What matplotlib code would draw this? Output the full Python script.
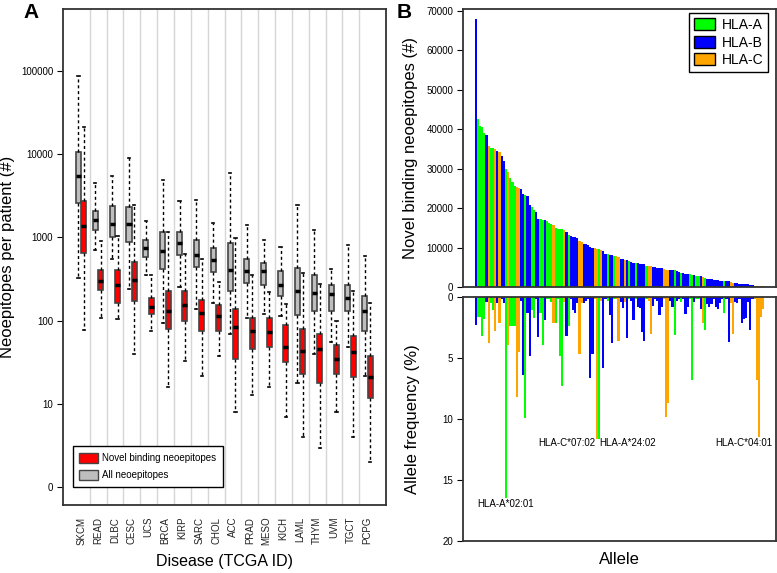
import numpy as np
import matplotlib.pyplot as plt
from matplotlib.patches import Patch

plt.rcParams['font.family'] = ['Liberation Sans', 'DejaVu Sans']

# ---- panel A data: neoepitopes per patient (box stats, counts) ----
diseases = ['SKCM', 'READ', 'DLBC', 'CESC', 'UCS', 'BRCA', 'KIRP', 'SARC', 'CHOL',
            'ACC', 'PRAD', 'MESO', 'KICH', 'LAML', 'THYM', 'UVM', 'TGCT', 'PCPG']

# all neoepitopes
all_hi  = [87000, 4500, 5500, 8900, 1580, 4900, 2750, 2800, 1480, 5900, 1410, 930, 760, 2450, 1230, 420, 800, 600]
all_q3  = [10700, 2100, 2350, 2300, 930, 1170, 1170, 930, 740, 850, 550, 490, 390, 430, 355, 265, 270, 200]
all_med = [5400, 1600, 1450, 1450, 740, 680, 850, 620, 540, 410, 400, 390, 265, 230, 215, 210, 190, 130]
all_q1  = [2600, 1230, 1020, 890, 590, 420, 620, 440, 380, 225, 280, 265, 200, 117, 132, 130, 130, 76]
all_lo  = [330, 710, 550, 240, 355, 95, 255, 140, 165, 70, 107, 120, 115, 18, 40, 55, 48, 22]

# novel binding neoepitopes
nov_hi  = [21000, 910, 1050, 2450, 355, 1150, 630, 550, 290, 980, 355, 220, 158, 370, 275, 100, 230, 162]
nov_q3  = [2700, 410, 410, 510, 190, 230, 225, 178, 155, 138, 107, 107, 89, 79, 69, 51, 66, 38]
nov_med = [1380, 300, 265, 310, 148, 132, 155, 123, 115, 85, 76, 74, 49, 43, 46, 35, 42, 21]
nov_q1  = [650, 235, 165, 175, 120, 79, 100, 76, 76, 35, 46, 48, 32, 23, 18, 23, 21, 12]
nov_lo  = [77, 107, 105, 40, 76, 16, 33, 22, 38, 8, 13, 16, 7, 4, 3, 8, 4, 2]

# ---- panel B data: one entry per HLA allele ----
allele_gene = ['B', 'A', 'A', 'A', 'A', 'B', 'C', 'A', 'A', 'C', 'B', 'C', 'B', 'B', 'A', 'C', 'A', 'A', 'A', 'C',
               'C', 'B', 'B', 'A', 'B', 'B', 'A', 'A', 'B', 'B', 'A', 'A', 'B', 'A', 'A', 'A', 'C', 'A', 'A', 'A',
               'A', 'C', 'B', 'A', 'B', 'B', 'B', 'B', 'C', 'C', 'B', 'B', 'B', 'B', 'B', 'C', 'C', 'A', 'C', 'B',
               'B', 'A', 'B', 'B', 'A', 'C', 'C', 'B', 'B', 'C', 'B', 'A', 'B', 'B', 'A', 'B', 'B', 'B', 'B', 'A',
               'C', 'C', 'B', 'B', 'B', 'B', 'B', 'C', 'C', 'C', 'B', 'B', 'A', 'B', 'B', 'A', 'B', 'B', 'B', 'A',
               'A', 'B', 'A', 'A', 'B', 'C', 'A', 'B', 'B', 'B', 'B', 'B', 'B', 'B', 'B', 'A', 'B', 'B', 'C', 'C',
               'B', 'B', 'B', 'B', 'B', 'B', 'B', 'B', 'B', 'C', 'C', 'C', 'C', 'C']
novel_binders = [67800, 42500, 40800, 40500, 39100, 38400, 35800, 35300, 35200, 35000,
                 34500, 34100, 33200, 32000, 29900, 29000, 27600, 26700, 25500, 25300,
                 25100, 24900, 23600, 23200, 23000, 20700, 20200, 19600, 18900, 17300,
                 17200, 17000, 16900, 16600, 16200, 16000, 15600, 15000, 14800, 14700,
                 14600, 14500, 13900, 13200, 12900, 12700, 12600, 12500, 11600, 11400,
                 11000, 10900, 10700, 10200, 9900, 9800, 9700, 9600, 9400, 9100,
                 8400, 8300, 8200, 8100, 7900, 7800, 7600, 7200, 7100, 6900,
                 6800, 6500, 6400, 6200, 6100, 6000, 5900, 5800, 5700, 5300,
                 5200, 5200, 5100, 5000, 4900, 4800, 4700, 4500, 4400, 4400,
                 4300, 4200, 4200, 4000, 3900, 3600, 3500, 3400, 3300, 3200,
                 3100, 3000, 2900, 2900, 2800, 2600, 2300, 2100, 2000, 1900,
                 1800, 1700, 1650, 1600, 1600, 1500, 1400, 1400, 1300, 1000,
                 950, 900, 850, 800, 750, 700, 650, 600, 450, 350,
                 300, 250, 200, 150]
allele_freq = [2.3, 1.6, 1.6, 3.2, 1.8, 0.4, 3.8, 0.5, 1.1, 2.8,
               0.5, 2.1, 0.2, 0.5, 16.5, 3.9, 2.4, 2.4, 2.4, 8.2,
               4.5, 0.3, 6.4, 9.9, 1.3, 4.8, 1.1, 1.7, 0.2, 3.3,
               1.3, 3.9, 1.9, 0.2, 0.2, 0.4, 2.1, 2.1, 0.2, 4.8,
               7.3, 0.4, 3.2, 2.4, 0.2, 1.1, 1.3, 0.5, 4.7, 0.5,
               0.5, 0.3, 0.2, 6.6, 4.7, 0.2, 11.6, 11.6, 0.3, 5.8,
               0.2, 0.3, 1.5, 3.8, 0.2, 0.2, 3.6, 0.4, 0.9, 0.4,
               3.4, 0.2, 0.3, 1.9, 0.2, 0.8, 0.9, 2.9, 3.6, 0.2,
               0.3, 3.0, 0.7, 0.2, 0.3, 1.5, 0.8, 0.2, 9.8, 8.7,
               0.3, 0.8, 3.1, 0.3, 0.2, 0.4, 0.2, 1.4, 0.8, 0.2,
               6.8, 0.4, 0.2, 0.2, 1.0, 2.1, 2.7, 0.6, 0.8, 0.6,
               0.2, 0.8, 1.0, 0.5, 0.2, 1.3, 0.2, 3.7, 0.5, 3.0,
               0.4, 0.5, 0.2, 2.1, 1.8, 1.7, 0.4, 2.7, 0.2, 0.2,
               6.8, 11.5, 1.6, 1.0]
gene_names = ['HLA-A', 'HLA-B', 'HLA-C']
gene_colors = {'A': '#00FF00', 'B': '#0000FF', 'C': '#FFA500'}

# labelled alleles: (bar number, label, offset in bars, alignment, y)
allele_labels = [(15, 'HLA-A*02:01', 0, 'center', 17.0),
                 (57, 'HLA-C*07:02', -0.6, 'right', 12.0),
                 (58, 'HLA-A*24:02', 0, 'left', 12.0),
                 (132, 'HLA-C*04:01', -7, 'center', 12.0)]

W, H = 777, 573
fig = plt.figure(figsize=(W / 100, H / 100), dpi=100)
frame_col = '#333333'

# ================= panel A =================
axA = fig.add_axes([63 / W, 1 - 505 / H, (386 - 63) / W, (505 - 9) / H])
n = len(diseases)
xpos = np.arange(1, n + 1)
for xg in xpos[:-1] + 0.5:
    axA.axvline(xg, color='#D6D6D6', lw=1, zorder=0)


def stats(lo, q1, med, q3, hi):
    out = []
    for i in range(len(lo)):
        out.append({'whislo': np.log10(lo[i]), 'q1': np.log10(q1[i]), 'med': np.log10(med[i]),
                    'q3': np.log10(q3[i]), 'whishi': np.log10(hi[i]), 'fliers': []})
    return out


common = dict(widths=0.3, patch_artist=True, showfliers=False, capwidths=0.13,
              medianprops=dict(color='black', lw=2.5, solid_capstyle='butt'),
              whiskerprops=dict(color='black', lw=1, linestyle=(0, (2.2, 2))),
              capprops=dict(color='black', lw=1.2))
axA.bxp(stats(all_lo, all_q1, all_med, all_q3, all_hi), positions=xpos - 0.17,
        boxprops=dict(facecolor='#BEBEBE', edgecolor='#444444', lw=1.2), **common)
axA.bxp(stats(nov_lo, nov_q1, nov_med, nov_q3, nov_hi), positions=xpos + 0.15,
        boxprops=dict(facecolor='#FF0000', edgecolor='#444444', lw=1.2), **common)

axA.set_xlim(-0.09, n + 1.09)
axA.set_ylim(-0.21, 5.74)
axA.set_yticks(range(6))
axA.set_yticklabels(['0', '10', '100', '1000', '10000', '100000'], fontsize=7)
axA.set_xticks(xpos)
axA.set_xticklabels(diseases, rotation=90, fontsize=7, color='#222222')
axA.tick_params(axis='x', length=0, pad=8.5)
axA.tick_params(axis='y', length=4, width=0.8, pad=3)
axA.set_xlabel('Disease (TCGA ID)', fontsize=11.5, labelpad=6)
axA.set_ylabel('Neoepitopes per patient (#)', fontsize=12, labelpad=4)
for s in axA.spines.values():
    s.set_color(frame_col)
    s.set_linewidth(1.3)
legA = axA.legend(handles=[Patch(facecolor='#FF0000', edgecolor='#444444', label='Novel binding neoepitopes'),
                           Patch(facecolor='#BEBEBE', edgecolor='#444444', label='All neoepitopes')],
                  loc='lower left', bbox_to_anchor=(0.03, 0.036), borderaxespad=0, fontsize=7,
                  fancybox=False, edgecolor='black', framealpha=1, handlelength=1.9, handleheight=1.2,
                  borderpad=0.7, labelspacing=0.7, handletextpad=0.4)
legA.get_frame().set_linewidth(1)

# ================= panel B =================
nb = len(novel_binders)
bx = np.arange(1, nb + 1)
bcols = [gene_colors[g] for g in allele_gene]
pad = 0.04 * nb

axB1 = fig.add_axes([463 / W, 1 - 287 / H, (776 - 463) / W, (287 - 9) / H])
axB1.bar(bx, novel_binders, width=1.0, color=bcols, linewidth=0)
axB1.set_xlim(0.5 - pad, nb + 0.5 + pad)
axB1.set_ylim(0, 70400)
axB1.set_yticks(np.arange(0, 70001, 10000))
axB1.set_yticklabels([str(v) for v in range(0, 70001, 10000)], fontsize=7)
axB1.set_xticks([])
axB1.tick_params(axis='y', length=4, width=0.8, pad=3)
axB1.set_ylabel('Novel binding neoepitopes (#)', fontsize=12, labelpad=6)
legB = axB1.legend(handles=[Patch(facecolor=gene_colors[k], edgecolor='black', label=nm)
                            for k, nm in zip(['A', 'B', 'C'], gene_names)],
                   loc='upper right', bbox_to_anchor=(0.975, 0.985), borderaxespad=0, fontsize=10,
                   fancybox=False, edgecolor='black', framealpha=1, handlelength=1.5, handleheight=1.0,
                   labelspacing=0.25, borderpad=0.35, handletextpad=0.5)
legB.get_frame().set_linewidth(1)

axB2 = fig.add_axes([463 / W, 1 - 541 / H, (776 - 463) / W, (541 - 297) / H])
axB2.bar(bx, allele_freq, width=1.0, color=bcols, linewidth=0)
axB2.set_xlim(0.5 - pad, nb + 0.5 + pad)
axB2.set_ylim(20, 0)
axB2.set_yticks([0, 5, 10, 15, 20])
axB2.set_yticklabels(['0', '5', '10', '15', '20'], fontsize=7)
axB2.set_xticks([])
axB2.tick_params(axis='y', length=4, width=0.8, pad=3)
axB2.set_ylabel('Allele frequency (%)', fontsize=12, labelpad=16)
axB2.set_xlabel('Allele', fontsize=12, labelpad=8)
for idx, lab, off, ha, yv in allele_labels:
    axB2.text(idx + off, yv, lab, ha=ha, va='center', fontsize=7)

for ax in (axB1, axB2):
    for s in ax.spines.values():
        s.set_color(frame_col)
        s.set_linewidth(1.3)

fig.text(23 / W, 1 - 3 / H, 'A', fontsize=15, fontweight='bold', va='top', ha='left')
fig.text(397 / W, 1 - 3 / H, 'B', fontsize=15, fontweight='bold', va='top', ha='left')

fig.savefig('out.png', dpi=100)
